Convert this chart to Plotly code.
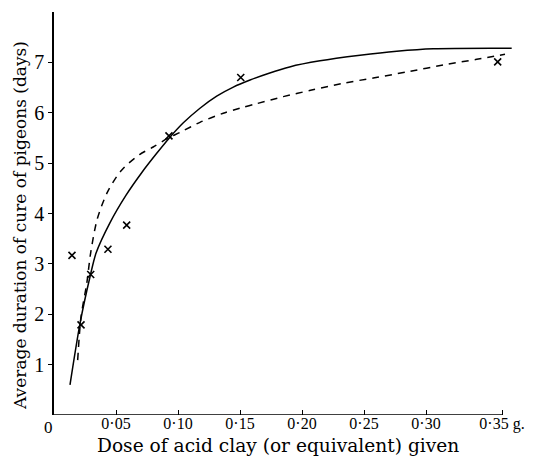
import plotly.graph_objects as go

# Observed points (dose in g, days)
obs_dose = [0.0145, 0.0218, 0.0296, 0.0435, 0.0586, 0.0927, 0.1506, 0.3578]
obs_days = [3.17, 1.79, 2.79, 3.29, 3.77, 5.54, 6.70, 7.01]

# Solid fitted curve
solid_dose = [0.0129, 0.0210, 0.0290, 0.0340, 0.0452, 0.0580, 0.0710, 0.0830, 0.0930,
              0.1043, 0.1177, 0.1312, 0.1446, 0.1581, 0.1728, 0.1900, 0.2145, 0.2468,
              0.2764, 0.3059, 0.3691]
solid_days = [0.60, 1.82, 2.74, 3.22, 3.82, 4.36, 4.82, 5.20, 5.50,
              5.80, 6.09, 6.33, 6.51, 6.65, 6.78, 6.91, 7.03, 7.14,
              7.22, 7.27, 7.28]

# Dashed curve
dash_dose = [0.0191, 0.0218, 0.0264, 0.0297, 0.0350, 0.0432, 0.0545, 0.0690, 0.0800, 0.0915,
             0.1016, 0.1177, 0.1365, 0.1500, 0.1634, 0.1849, 0.2078, 0.2320, 0.2575,
             0.2844, 0.3167, 0.3409, 0.3637]
dash_days = [1.09, 1.95, 2.61, 3.24, 3.90, 4.43, 4.86, 5.17, 5.32, 5.49,
             5.61, 5.81, 5.99, 6.09, 6.18, 6.32, 6.45, 6.58, 6.69,
             6.81, 6.96, 7.06, 7.16]

x_tickvals = [0.05, 0.10, 0.15, 0.20, 0.25, 0.30, 0.3613]
x_ticktext = ["0·05", "0·10", "0·15", "0·20", "0·25", "0·30", "0·35 g."]
y_tickvals = [1, 2, 3, 4, 5, 6, 7]
y_ticktext = ["1", "2", "3", "4", "5", "6", "7"]
x_axis_end = 0.3613

FONT = "Liberation Serif, Times New Roman, serif"
TFONT = "DejaVu Serif, serif"

fig = go.Figure()
fig.add_trace(go.Scatter(x=solid_dose, y=solid_days, mode="lines",
                         line=dict(color="black", width=1.5, shape="spline", smoothing=0.8),
                         showlegend=False, hoverinfo="skip"))
fig.add_trace(go.Scatter(x=dash_dose, y=dash_days, mode="lines",
                         line=dict(color="black", width=1.5, dash="7px,6px", shape="spline", smoothing=0.8),
                         showlegend=False, hoverinfo="skip"))
fig.add_trace(go.Scatter(x=obs_dose, y=obs_days, mode="markers",
                         marker=dict(symbol="x-thin", size=7, line=dict(color="black", width=1.6)),
                         showlegend=False))

fig.add_shape(type="line", xref="x", yref="y", x0=0, x1=x_axis_end, y0=0, y1=0,
              line=dict(color="black", width=1.5))

fig.add_annotation(text="0", xref="paper", yref="paper", x=0, y=0, xanchor="center", yanchor="middle",
                   xshift=-6, yshift=-12, showarrow=False,
                   font=dict(family=FONT, size=17, color="black"))
fig.add_annotation(text="Dose of acid clay (or equivalent) given", xref="paper", yref="paper",
                   x=(278 - 54) / 466, y=0, xanchor="center", yanchor="middle", yshift=-30,
                   showarrow=False, font=dict(family=TFONT, size=18.6, color="black"))
fig.add_annotation(text="Average duration of cure of pigeons (days)", xref="paper", yref="paper",
                   x=0, y=(415 - 226) / 403, xanchor="center", yanchor="middle", xshift=-34,
                   textangle=-90, showarrow=False, font=dict(family=TFONT, size=17, color="black"))

# page body has an 8px margin, so the figure is 16px smaller than the window
fig.update_layout(
    width=520, height=450,
    margin=dict(l=46, r=8, t=4, b=43, autoexpand=False),
    paper_bgcolor="white", plot_bgcolor="white",
    font=dict(family=FONT, color="black"),
    xaxis=dict(range=[0, 0.3758], automargin=False, showline=False, showgrid=False, zeroline=False,
               tickvals=x_tickvals, ticktext=x_ticktext, ticks="inside", ticklen=5,
               tickwidth=1.2, tickcolor="black", tickfont=dict(size=16, family=FONT),
               ticklabelstandoff=-3),
    yaxis=dict(range=[0, 8.0], automargin=False, showline=True, linecolor="black", linewidth=1.5,
               showgrid=False, zeroline=False,
               tickvals=y_tickvals, ticktext=y_ticktext, ticks="outside", ticklen=4,
               tickwidth=1.2, tickcolor="black", tickfont=dict(size=20, family=FONT)),
)

fig.write_html("out.html")
